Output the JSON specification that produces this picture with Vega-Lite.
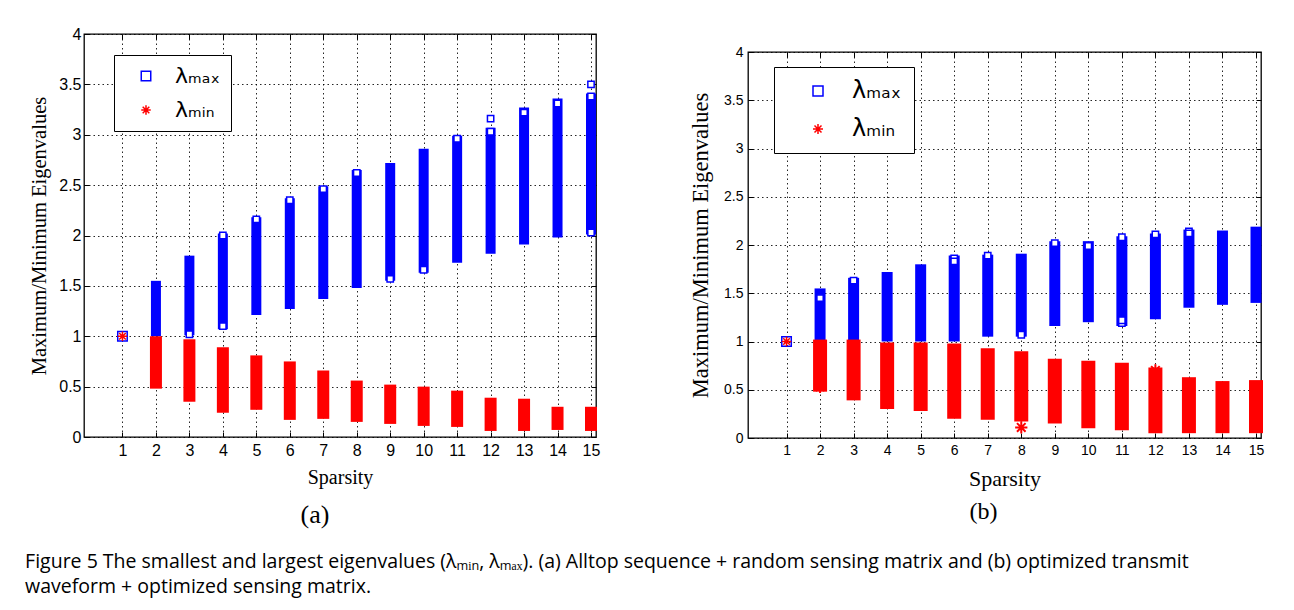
{
  "$schema": "https://vega.github.io/schema/vega-lite/v6.json",
  "background": "#ffffff",
  "padding": {"left": 25, "top": 25, "right": 5, "bottom": 5},
  "datasets": {
    "bars": [
      {"panel": "a", "series": "max", "sparsity": 2, "lo": 1.0, "hi": 1.55},
      {"panel": "a", "series": "max", "sparsity": 3, "lo": 1.01, "hi": 1.8},
      {"panel": "a", "series": "max", "sparsity": 4, "lo": 1.07, "hi": 2.02},
      {"panel": "a", "series": "max", "sparsity": 5, "lo": 1.21, "hi": 2.18},
      {"panel": "a", "series": "max", "sparsity": 6, "lo": 1.27, "hi": 2.37},
      {"panel": "a", "series": "max", "sparsity": 7, "lo": 1.37, "hi": 2.49},
      {"panel": "a", "series": "max", "sparsity": 8, "lo": 1.48, "hi": 2.65},
      {"panel": "a", "series": "max", "sparsity": 9, "lo": 1.55, "hi": 2.72},
      {"panel": "a", "series": "max", "sparsity": 10, "lo": 1.63, "hi": 2.86},
      {"panel": "a", "series": "max", "sparsity": 11, "lo": 1.73, "hi": 2.99},
      {"panel": "a", "series": "max", "sparsity": 12, "lo": 1.82, "hi": 3.07},
      {"panel": "a", "series": "max", "sparsity": 13, "lo": 1.91, "hi": 3.27},
      {"panel": "a", "series": "max", "sparsity": 14, "lo": 1.98, "hi": 3.36},
      {"panel": "a", "series": "max", "sparsity": 15, "lo": 2.01, "hi": 3.41},
      {"panel": "a", "series": "min", "sparsity": 2, "lo": 0.48, "hi": 1.0},
      {"panel": "a", "series": "min", "sparsity": 3, "lo": 0.35, "hi": 0.97},
      {"panel": "a", "series": "min", "sparsity": 4, "lo": 0.24, "hi": 0.89},
      {"panel": "a", "series": "min", "sparsity": 5, "lo": 0.27, "hi": 0.81},
      {"panel": "a", "series": "min", "sparsity": 6, "lo": 0.17, "hi": 0.75},
      {"panel": "a", "series": "min", "sparsity": 7, "lo": 0.18, "hi": 0.66},
      {"panel": "a", "series": "min", "sparsity": 8, "lo": 0.15, "hi": 0.56},
      {"panel": "a", "series": "min", "sparsity": 9, "lo": 0.13, "hi": 0.52},
      {"panel": "a", "series": "min", "sparsity": 10, "lo": 0.11, "hi": 0.5},
      {"panel": "a", "series": "min", "sparsity": 11, "lo": 0.1, "hi": 0.46},
      {"panel": "a", "series": "min", "sparsity": 12, "lo": 0.06, "hi": 0.39},
      {"panel": "a", "series": "min", "sparsity": 13, "lo": 0.06, "hi": 0.38},
      {"panel": "a", "series": "min", "sparsity": 14, "lo": 0.07, "hi": 0.3},
      {"panel": "a", "series": "min", "sparsity": 15, "lo": 0.06, "hi": 0.3},
      {"panel": "b", "series": "max", "sparsity": 2, "lo": 1.0, "hi": 1.55},
      {"panel": "b", "series": "max", "sparsity": 3, "lo": 0.98, "hi": 1.66},
      {"panel": "b", "series": "max", "sparsity": 4, "lo": 1.0, "hi": 1.72},
      {"panel": "b", "series": "max", "sparsity": 5, "lo": 1.0, "hi": 1.8},
      {"panel": "b", "series": "max", "sparsity": 6, "lo": 1.0, "hi": 1.89},
      {"panel": "b", "series": "max", "sparsity": 7, "lo": 1.05, "hi": 1.9},
      {"panel": "b", "series": "max", "sparsity": 8, "lo": 1.05, "hi": 1.91},
      {"panel": "b", "series": "max", "sparsity": 9, "lo": 1.16, "hi": 2.04},
      {"panel": "b", "series": "max", "sparsity": 10, "lo": 1.2, "hi": 2.04},
      {"panel": "b", "series": "max", "sparsity": 11, "lo": 1.16, "hi": 2.09},
      {"panel": "b", "series": "max", "sparsity": 12, "lo": 1.23, "hi": 2.12},
      {"panel": "b", "series": "max", "sparsity": 13, "lo": 1.35, "hi": 2.16},
      {"panel": "b", "series": "max", "sparsity": 14, "lo": 1.38, "hi": 2.15},
      {"panel": "b", "series": "max", "sparsity": 15, "lo": 1.4, "hi": 2.19},
      {"panel": "b", "series": "min", "sparsity": 2, "lo": 0.48, "hi": 1.02},
      {"panel": "b", "series": "min", "sparsity": 3, "lo": 0.39, "hi": 1.02},
      {"panel": "b", "series": "min", "sparsity": 4, "lo": 0.3, "hi": 0.99},
      {"panel": "b", "series": "min", "sparsity": 5, "lo": 0.28, "hi": 0.99},
      {"panel": "b", "series": "min", "sparsity": 6, "lo": 0.2, "hi": 0.98},
      {"panel": "b", "series": "min", "sparsity": 7, "lo": 0.19, "hi": 0.93},
      {"panel": "b", "series": "min", "sparsity": 8, "lo": 0.17, "hi": 0.9},
      {"panel": "b", "series": "min", "sparsity": 9, "lo": 0.15, "hi": 0.82},
      {"panel": "b", "series": "min", "sparsity": 10, "lo": 0.1, "hi": 0.8},
      {"panel": "b", "series": "min", "sparsity": 11, "lo": 0.08, "hi": 0.78},
      {"panel": "b", "series": "min", "sparsity": 12, "lo": 0.05, "hi": 0.73},
      {"panel": "b", "series": "min", "sparsity": 13, "lo": 0.05, "hi": 0.63},
      {"panel": "b", "series": "min", "sparsity": 14, "lo": 0.05, "hi": 0.59},
      {"panel": "b", "series": "min", "sparsity": 15, "lo": 0.05, "hi": 0.6}
    ],
    "squares": [
      {"panel": "a", "sparsity": 3, "value": 1.02},
      {"panel": "a", "sparsity": 4, "value": 1.1},
      {"panel": "a", "sparsity": 4, "value": 2.0},
      {"panel": "a", "sparsity": 5, "value": 2.16},
      {"panel": "a", "sparsity": 6, "value": 2.35},
      {"panel": "a", "sparsity": 7, "value": 2.46},
      {"panel": "a", "sparsity": 8, "value": 2.62},
      {"panel": "a", "sparsity": 9, "value": 1.57},
      {"panel": "a", "sparsity": 10, "value": 1.66},
      {"panel": "a", "sparsity": 11, "value": 2.96},
      {"panel": "a", "sparsity": 12, "value": 3.16},
      {"panel": "a", "sparsity": 12, "value": 3.03},
      {"panel": "a", "sparsity": 13, "value": 3.22},
      {"panel": "a", "sparsity": 14, "value": 3.31},
      {"panel": "a", "sparsity": 15, "value": 3.5},
      {"panel": "a", "sparsity": 15, "value": 3.38},
      {"panel": "a", "sparsity": 15, "value": 2.03},
      {"panel": "b", "sparsity": 2, "value": 1.45},
      {"panel": "b", "sparsity": 3, "value": 1.63},
      {"panel": "b", "sparsity": 6, "value": 1.86},
      {"panel": "b", "sparsity": 6, "value": 1.83},
      {"panel": "b", "sparsity": 7, "value": 1.89},
      {"panel": "b", "sparsity": 8, "value": 1.07},
      {"panel": "b", "sparsity": 9, "value": 2.02},
      {"panel": "b", "sparsity": 10, "value": 1.99},
      {"panel": "b", "sparsity": 11, "value": 2.08},
      {"panel": "b", "sparsity": 11, "value": 1.19},
      {"panel": "b", "sparsity": 11, "value": 1.22},
      {"panel": "b", "sparsity": 12, "value": 2.11},
      {"panel": "b", "sparsity": 13, "value": 2.14},
      {"panel": "b", "sparsity": 13, "value": 2.12}
    ],
    "stars": [
      {"panel": "b", "sparsity": 8, "value": 0.11},
      {"panel": "b", "sparsity": 2, "value": 0.53},
      {"panel": "b", "sparsity": 2, "value": 0.63},
      {"panel": "b", "sparsity": 12, "value": 0.7}
    ],
    "pts": [
      {"panel": "a", "series": "λₘₐₓ", "sparsity": 1, "value": 1},
      {"panel": "a", "series": "λₘᵢₙ", "sparsity": 1, "value": 1},
      {"panel": "b", "series": "λₘₐₓ", "sparsity": 1, "value": 1},
      {"panel": "b", "series": "λₘᵢₙ", "sparsity": 1, "value": 1}
    ],
    "empty": []
  },
  "title": {
    "text": [
      "Figure 5 The smallest and largest eigenvalues (λₘᵢₙ, λₘₐₓ). (a) Alltop sequence + random sensing matrix and (b) optimized transmit",
      "waveform + optimized sensing matrix."
    ],
    "orient": "bottom",
    "anchor": "start",
    "frame": "bounds",
    "font": "Open Sans",
    "fontSize": 19.5,
    "fontWeight": "normal",
    "color": "#000000",
    "lineHeight": 25,
    "offset": 24,
    "dx": -4
  },
  "spacing": 87,
  "resolve": {"scale": {"color": "independent", "shape": "independent"}, "legend": {"color": "independent", "shape": "independent"}},
  "hconcat": [
    {
      "width": 512,
      "height": 403,
      "title": {"text": "(a)", "orient": "bottom", "font": "Liberation Serif", "fontSize": 26, "fontWeight": "normal", "color": "#000", "offset": 15, "dx": -25},
      "layer": [
        {
          "data": {"name": "bars"},
          "transform": [{"filter": "datum.panel === 'a' && datum.series === 'max'"}],
          "mark": {"type": "bar", "orient": "vertical", "width": 10, "color": "#0000ff"},
          "encoding": {
            "x": {"field": "sparsity", "type": "quantitative", "scale": {"domain": [0, 15], "nice": false},
              "axis": {"orient": "bottom", "values": [1,2,3,4,5,6,7,8,9,10,11,12,13,14,15], "grid": true, "gridDash": [1.5, 3], "gridColor": "#000", "gridOpacity": 0.85, "domain": false, "ticks": true, "tickSize": -5, "tickColor": "#000", "labelPadding": 10, "labelFont": "Liberation Sans", "labelFontSize": 16, "labelColor": "#000", "title": "Sparsity", "titleFont": "Liberation Serif", "titleFontSize": 20, "titleFontWeight": "normal", "titleColor": "#000", "titlePadding": 9}},
            "y": {"field": "lo", "type": "quantitative", "scale": {"domain": [0, 4], "nice": false},
              "axis": {"orient": "left", "values": [0,0.5,1,1.5,2,2.5,3,3.5,4], "format": "~g", "grid": true, "gridDash": [1.5, 3], "gridColor": "#000", "gridOpacity": 0.85, "domain": false, "tickSize": -5, "tickColor": "#000", "labelPadding": 8, "labelFont": "Liberation Sans", "labelFontSize": 16, "labelColor": "#000", "title": "Maximum/Minimum Eigenvalues", "titleFont": "Liberation Serif", "titleFontSize": 20.5, "titleFontWeight": "normal", "titleColor": "#000", "titlePadding": 9}},
            "y2": {"field": "hi"}
          }
        },
        {
          "data": {"name": "bars"},
          "transform": [{"filter": "datum.panel === 'a' && datum.series === 'min'"}],
          "mark": {"type": "bar", "orient": "vertical", "width": 12, "color": "#ff0000"},
          "encoding": {
            "x": {"field": "sparsity", "type": "quantitative", "scale": {"domain": [0, 15], "nice": false}, "axis": null},
            "y": {"field": "lo", "type": "quantitative", "scale": {"domain": [0, 4], "nice": false}, "axis": null},
            "y2": {"field": "hi"}
          }
        },
        {
          "data": {"name": "squares"},
          "transform": [{"filter": "datum.panel === 'a'"}],
          "mark": {"type": "point", "shape": "square", "filled": true, "fill": "#ffffff", "stroke": "#0000ff", "strokeWidth": 1.5, "size": 40, "opacity": 1},
          "encoding": {
            "x": {"field": "sparsity", "type": "quantitative", "scale": {"domain": [0, 15], "nice": false}, "axis": null},
            "y": {"field": "value", "type": "quantitative", "scale": {"domain": [0, 4], "nice": false}, "axis": null}
          }
        },
        {
          "data": {"name": "pts"},
          "transform": [{"filter": "datum.panel === 'a'"}],
          "mark": {"type": "point", "filled": false, "strokeWidth": 1.5, "size": 90, "opacity": 1},
          "encoding": {
            "x": {"field": "sparsity", "type": "quantitative", "scale": {"domain": [0, 15], "nice": false},
              "axis": {"orient": "top", "values": [1,2,3,4,5,6,7,8,9,10,11,12,13,14,15], "labels": false, "grid": false, "domain": false, "tickSize": -5, "tickColor": "#000", "title": null, "minExtent": 0, "maxExtent": 0}},
            "y": {"field": "value", "type": "quantitative", "scale": {"domain": [0, 4], "nice": false},
              "axis": {"orient": "right", "values": [0,0.5,1,1.5,2,2.5,3,3.5,4], "labels": false, "grid": false, "domain": false, "tickSize": -5, "tickColor": "#000", "title": null, "minExtent": 0, "maxExtent": 0}},
            "color": {"field": "series", "type": "nominal", "scale": {"domain": ["λₘₐₓ", "λₘᵢₙ"], "range": ["#0000ff", "#ff0000"]},
              "legend": {"orient": "none", "legendX": 30, "legendY": 21, "title": null, "strokeColor": "#000", "fillColor": "#fff", "padding": 10, "symbolOffset": 11, "labelOffset": 18, "rowPadding": 12, "labelFont": "DejaVu Sans", "labelFontSize": 22, "labelColor": "#000", "symbolSize": 90, "symbolStrokeWidth": 1.5, "labelLimit": 200}},
            "shape": {"field": "series", "type": "nominal", "scale": {"domain": ["λₘₐₓ", "λₘᵢₙ"], "range": ["square", "M0,-1L0,1M-1,0L1,0M-0.7,-0.7L0.7,0.7M-0.7,0.7L0.7,-0.7"]}}
          }
        }
      ],
      "resolve": {"axis": {"x": "independent", "y": "independent"}}
    },
    {
      "spacing": 9,
      "resolve": {"scale": {"color": "independent", "shape": "independent"}, "legend": {"color": "independent", "shape": "independent"}},
      "vconcat": [
        {
          "width": 10,
          "height": 1,
          "view": {"stroke": null},
          "data": {"name": "empty"},
          "mark": "point",
          "encoding": {}
        },
        {
          "width": 513,
          "height": 386,
          "title": {"text": "(b)", "orient": "bottom", "font": "Liberation Serif", "fontSize": 24, "fontWeight": "normal", "color": "#000", "offset": 11, "dx": -21},
          "layer": [
            {
              "data": {"name": "bars"},
              "transform": [{"filter": "datum.panel === 'b' && datum.series === 'max'"}],
              "mark": {"type": "bar", "orient": "vertical", "width": 11, "color": "#0000ff"},
              "encoding": {
                "x": {"field": "sparsity", "type": "quantitative", "scale": {"domain": [0, 15], "nice": false},
                  "axis": {"orient": "bottom", "values": [1,2,3,4,5,6,7,8,9,10,11,12,13,14,15], "grid": true, "gridDash": [1.5, 3], "gridColor": "#000", "gridOpacity": 0.85, "domain": false, "tickSize": -5, "tickColor": "#000", "labelPadding": 10, "labelFont": "Liberation Sans", "labelFontSize": 14, "labelColor": "#000", "title": "Sparsity", "titleFont": "Liberation Serif", "titleFontSize": 22, "titleFontWeight": "normal", "titleColor": "#000", "titlePadding": 11}},
                "y": {"field": "lo", "type": "quantitative", "scale": {"domain": [0, 4], "nice": false},
                  "axis": {"orient": "left", "values": [0,0.5,1,1.5,2,2.5,3,3.5,4], "format": "~g", "grid": true, "gridDash": [1.5, 3], "gridColor": "#000", "gridOpacity": 0.85, "domain": false, "tickSize": -5, "tickColor": "#000", "labelPadding": 10, "labelFont": "Liberation Sans", "labelFontSize": 14, "labelColor": "#000", "title": "Maximum/Minimum Eigenvalues", "titleFont": "Liberation Serif", "titleFontSize": 22.5, "titleFontWeight": "normal", "titleColor": "#000", "titlePadding": 11}},
                "y2": {"field": "hi"}
              }
            },
            {
              "data": {"name": "bars"},
              "transform": [{"filter": "datum.panel === 'b' && datum.series === 'min'"}],
              "mark": {"type": "bar", "orient": "vertical", "width": 14, "color": "#ff0000"},
              "encoding": {
                "x": {"field": "sparsity", "type": "quantitative", "scale": {"domain": [0, 15], "nice": false}, "axis": null},
                "y": {"field": "lo", "type": "quantitative", "scale": {"domain": [0, 4], "nice": false}, "axis": null},
                "y2": {"field": "hi"}
              }
            },
            {
              "data": {"name": "squares"},
              "transform": [{"filter": "datum.panel === 'b'"}],
              "mark": {"type": "point", "shape": "square", "filled": true, "fill": "#ffffff", "stroke": "#0000ff", "strokeWidth": 1.5, "size": 40, "opacity": 1},
              "encoding": {
                "x": {"field": "sparsity", "type": "quantitative", "scale": {"domain": [0, 15], "nice": false}, "axis": null},
                "y": {"field": "value", "type": "quantitative", "scale": {"domain": [0, 4], "nice": false}, "axis": null}
              }
            },
            {
              "data": {"name": "stars"},
              "transform": [{"filter": "datum.panel === 'b'"}],
              "mark": {"type": "point", "shape": "M0,-1L0,1M-1,0L1,0M-0.7,-0.7L0.7,0.7M-0.7,0.7L0.7,-0.7", "filled": false, "stroke": "#ff0000", "strokeWidth": 2, "size": 150, "opacity": 1},
              "encoding": {
                "x": {"field": "sparsity", "type": "quantitative", "scale": {"domain": [0, 15], "nice": false}, "axis": null},
                "y": {"field": "value", "type": "quantitative", "scale": {"domain": [0, 4], "nice": false}, "axis": null}
              }
            },
            {
              "data": {"name": "pts"},
              "transform": [{"filter": "datum.panel === 'b'"}],
              "mark": {"type": "point", "filled": false, "strokeWidth": 1.5, "size": 90, "opacity": 1},
              "encoding": {
                "x": {"field": "sparsity", "type": "quantitative", "scale": {"domain": [0, 15], "nice": false},
                  "axis": {"orient": "top", "values": [1,2,3,4,5,6,7,8,9,10,11,12,13,14,15], "labels": false, "grid": false, "domain": false, "tickSize": -5, "tickColor": "#000", "title": null, "minExtent": 0, "maxExtent": 0}},
                "y": {"field": "value", "type": "quantitative", "scale": {"domain": [0, 4], "nice": false},
                  "axis": {"orient": "right", "values": [0,0.5,1,1.5,2,2.5,3,3.5,4], "labels": false, "grid": false, "domain": false, "tickSize": -5, "tickColor": "#000", "title": null, "minExtent": 0, "maxExtent": 0}},
                "color": {"field": "series", "type": "nominal", "scale": {"domain": ["λₘₐₓ", "λₘᵢₙ"], "range": ["#0000ff", "#ff0000"]},
                  "legend": {"orient": "none", "legendX": 26, "legendY": 15, "title": null, "strokeColor": "#000", "fillColor": "#fff", "padding": 12, "symbolOffset": 20, "labelOffset": 22, "rowPadding": 14, "labelFont": "DejaVu Sans", "labelFontSize": 24, "labelColor": "#000", "symbolSize": 100, "symbolStrokeWidth": 1.5, "labelLimit": 200}},
                "shape": {"field": "series", "type": "nominal", "scale": {"domain": ["λₘₐₓ", "λₘᵢₙ"], "range": ["square", "M0,-1L0,1M-1,0L1,0M-0.7,-0.7L0.7,0.7M-0.7,0.7L0.7,-0.7"]}}
              }
            }
          ],
          "resolve": {"axis": {"x": "independent", "y": "independent"}}
        }
      ]
    }
  ],
  "config": {
    "view": {"stroke": "#000", "strokeWidth": 1.3}
  }
}
